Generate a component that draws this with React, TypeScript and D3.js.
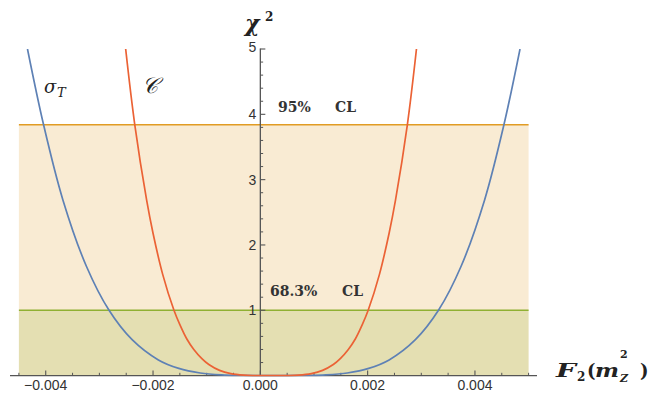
import React from 'react';
import * as d3 from 'd3';

// ---- data ----
const xDomain = [-0.0045, 0.005];
const yDomain = [0, 5];
const xMajorTicks = [-0.004, -0.002, 0, 0.002, 0.004];
const xMinorTicks = [-0.0045, -0.0035, -0.003, -0.0025, -0.0015, -0.001, -0.0005, 0.0005, 0.001, 0.0015, 0.0025, 0.003, 0.0035, 0.0045, 0.005];
const yMajorTicks = [1, 2, 3, 4, 5];
const yMinorTicks = [0.2, 0.4, 0.6, 0.8, 1.2, 1.4, 1.6, 1.8, 2.2, 2.4, 2.6, 2.8, 3.2, 3.4, 3.6, 3.8, 4.2, 4.4, 4.6, 4.8];
const cl95 = 3.84;
const cl68 = 1;

// sigma_T curve (blue)
const sigmaTX = [-0.00434, -0.00404, -0.00368, -0.00324, -0.00282, -0.00239, -0.0019, -0.00152, -0.00112, -0.00072, -0.0004, 0.00025, 0.0009, 0.00122, 0.00162, 0.00202, 0.0024, 0.00289, 0.00332, 0.00374, 0.00418, 0.00454, 0.00484];
const sigmaTChi2 = [5.0, 3.84, 2.69, 1.67, 1.0, 0.55, 0.24, 0.11, 0.04, 0.01, 0.002, 0.0, 0.002, 0.01, 0.04, 0.11, 0.24, 0.55, 1.0, 1.67, 2.69, 3.84, 5.0];

// script C curve (red)
const cX = [-0.00251, -0.00234, -0.00212, -0.002, -0.00182, -0.00161, -0.0015, -0.00137, -0.00124, -0.00109, -0.00096, -0.00076, -0.00055, -0.00031, -0.0001, 0.0002, 0.0005, 0.00071, 0.00095, 0.00116, 0.00136, 0.00149, 0.00164, 0.00177, 0.0019, 0.00201, 0.00222, 0.0024, 0.00252, 0.00274, 0.00291];
const cChi2 = [5.0, 3.84, 2.69, 2.18, 1.55, 1.0, 0.78, 0.56, 0.4, 0.26, 0.17, 0.08, 0.03, 0.006, 0.0005, 0.0, 0.0005, 0.006, 0.03, 0.08, 0.17, 0.26, 0.4, 0.56, 0.78, 1.0, 1.55, 2.18, 2.69, 3.84, 5.0];

const BLUE = '#5E81B5';
const RED = '#EB6235';
const ORANGE = '#E19C24';
const GREEN = '#8FB032';
const AXIS = '#555555';
const MATH = 'DejaVu Serif, serif';
const SANS = 'Liberation Sans, Arial, Helvetica, sans-serif';

export default function App() {
  const W = 652, H = 397;
  const x = d3.scaleLinear().domain(xDomain).range([18.9, 528.6]);
  const y = d3.scaleLinear().domain(yDomain).range([375.6, 49]);

  const line = d3
    .line<[number, number]>()
    .x((d) => x(d[0]))
    .y((d) => y(d[1]))
    .curve(d3.curveCatmullRom.alpha(0.5));

  const blue = sigmaTX.map((v, i) => [v, sigmaTChi2[i]] as [number, number]);
  const red = cX.map((v, i) => [v, cChi2[i]] as [number, number]);

  const x0 = x(0);
  const y0 = y(0);
  const fmt = d3.format('.3f');
  const left = x(xDomain[0]);
  const right = x(xDomain[1]);

  return (
    <svg width={W} height={H} style={{ position: 'absolute', left: 0, top: 0 }}>
      <defs>
        <clipPath id="plotclip">
          <rect x={left} y={y(yDomain[1])} width={right - left} height={y(0) - y(yDomain[1]) + 1} />
        </clipPath>
      </defs>
      {/* bands */}
      <rect x={left} y={y(cl95)} width={right - left} height={y(0) - y(cl95)} fill={ORANGE} fillOpacity={0.2} />
      <rect x={left} y={y(cl68)} width={right - left} height={y(0) - y(cl68)} fill={GREEN} fillOpacity={0.2} />
      <line x1={left} x2={right} y1={y(cl95)} y2={y(cl95)} stroke={ORANGE} strokeWidth={1.6} />
      <line x1={left} x2={right} y1={y(cl68)} y2={y(cl68)} stroke={GREEN} strokeWidth={1.6} />

      {/* x axis */}
      <line x1={10} x2={537} y1={y0} y2={y0} stroke={AXIS} strokeWidth={1.3} />
      {xMajorTicks.map((t) => (
        <line key={'xM' + t} x1={x(t)} x2={x(t)} y1={y0} y2={y0 - 5} stroke={AXIS} strokeWidth={1.1} />
      ))}
      {xMinorTicks.map((t) => (
        <line key={'xm' + t} x1={x(t)} x2={x(t)} y1={y0} y2={y0 - 2.8} stroke={AXIS} strokeWidth={1} />
      ))}
      {xMajorTicks.map((t) => (
        <text key={'xl' + t} x={x(t)} y={390} textAnchor="middle" fontFamily={SANS} fontSize={14} fill="#333">
          {fmt(t)}
        </text>
      ))}

      {/* y axis */}
      <line x1={x0} x2={x0} y1={y0} y2={y(yDomain[1]) - 0.5} stroke={AXIS} strokeWidth={1.3} />
      {yMajorTicks.map((t) => (
        <line key={'yM' + t} x1={x0} x2={x0 + 5} y1={y(t)} y2={y(t)} stroke={AXIS} strokeWidth={1.1} />
      ))}
      {yMinorTicks.map((t) => (
        <line key={'ym' + t} x1={x0} x2={x0 + 2.8} y1={y(t)} y2={y(t)} stroke={AXIS} strokeWidth={1} />
      ))}
      {yMajorTicks.map((t) => (
        <text key={'yl' + t} x={x0 - 4} y={y(t) + (t === 5 ? -2 : 0)} dy="0.35em" textAnchor="end" fontFamily={SANS} fontSize={14} fill="#333">
          {t}
        </text>
      ))}

      {/* curves */}
      <g clipPath="url(#plotclip)">
        <path d={line(blue) || ''} fill="none" stroke={BLUE} strokeWidth={1.7} />
        <path d={line(red) || ''} fill="none" stroke={RED} strokeWidth={1.7} />
      </g>

      {/* CL labels */}
      <text x={278} y={112} fontFamily={MATH} fontWeight="bold" fontSize={14} fill="#333">95%</text>
      <text x={335} y={112} fontFamily={MATH} fontWeight="bold" fontSize={14} fill="#333">CL</text>
      <text x={270} y={296} fontFamily={MATH} fontWeight="bold" fontSize={14} fill="#333">68.3%</text>
      <text x={342} y={296} fontFamily={MATH} fontWeight="bold" fontSize={14} fill="#333">CL</text>

      {/* curve labels */}
      <text x={44} y={93} fontFamily={MATH} fontStyle="italic" fontSize={18} fill="#222">σ</text>
      <text x={57} y={97} fontFamily={MATH} fontStyle="italic" fontSize={13} fill="#222">T</text>
      <text x={142} y={93} fontFamily={MATH} fontStyle="italic" fontSize={22} fill="#222">𝒞</text>

      {/* y axis title */}
      <text x={245} y={31} fontFamily={MATH} fontStyle="italic" fontWeight="bold" fontSize={22} fill="#222">χ</text>
      <text x={265} y={21} fontFamily={MATH} fontWeight="bold" fontSize={12} fill="#222">2</text>

      {/* x axis title */}
      <text x={556} y={377} fontFamily={MATH} fontStyle="italic" fontWeight="bold" fontSize={18} textLength={20} lengthAdjust="spacingAndGlyphs" fill="#222">F</text>
      <text x={577} y={381} fontFamily={MATH} fontWeight="bold" fontSize={12} fill="#222">2</text>
      <text x={587} y={377} fontFamily={MATH} fontWeight="bold" fontSize={18} fill="#222">(</text>
      <text x={595} y={377} fontFamily={MATH} fontStyle="italic" fontWeight="bold" fontSize={18} textLength={24} lengthAdjust="spacingAndGlyphs" fill="#222">m</text>
      <text x={620} y={358} fontFamily={MATH} fontWeight="bold" fontSize={11} fill="#222">2</text>
      <text x={620} y={382} fontFamily={MATH} fontStyle="italic" fontWeight="bold" fontSize={11} fill="#222">Z</text>
      <text x={640} y={377} fontFamily={MATH} fontWeight="bold" fontSize={18} fill="#222">)</text>
    </svg>
  );
}
